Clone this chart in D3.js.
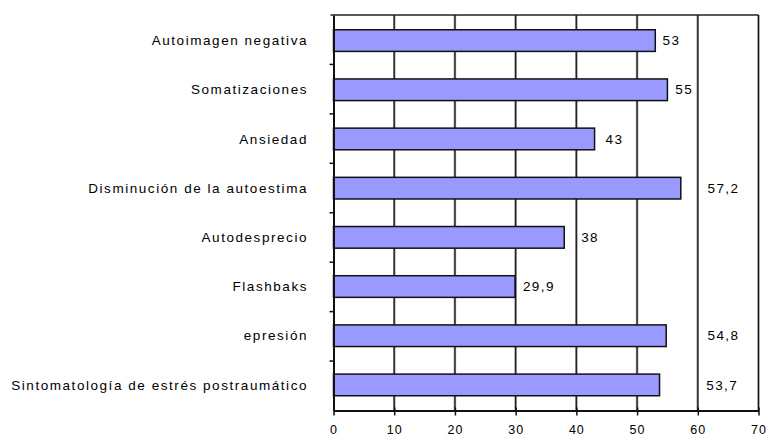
<!DOCTYPE html>
<html>
<head>
<meta charset="utf-8">
<script src="https://cdnjs.cloudflare.com/ajax/libs/d3/7.8.5/d3.min.js"></script>
<style>
body { margin:0; background:#fff; }
text { font-family: "Liberation Sans", Arial, sans-serif; font-size:13.5px; fill:#000; }
</style>
</head>
<body>
<svg width="769" height="441"></svg>
<script>
var categories = ['Autoimagen negativa','Somatizaciones','Ansiedad','Disminución de la autoestima',
  'Autodesprecio','Flashbaks','epresión','Sintomatología de estrés postraumático']
var values = [53, 55, 43, 57.2, 38, 29.9, 54.8, 53.7]
var valueLabels = ['53','55','43','57,2','38','29,9','54,8','53,7']
var xTicks = [0,10,20,30,40,50,60,70]
// where each value label starts, in axis units (labels were dragged around in the original)
var labelAt = [54.2, 56.3, 44.8, 61.6, 40.8, 31.2, 61.6, 61.4]

var svg = d3.select('svg')
var pLeft = 333.5, pRight = 758.5, pTop = 15, pBottom = 410.5

var x = d3.scaleLinear().domain([0,70]).range([pLeft,pRight])
var y = d3.scaleBand().domain(categories).range([pTop,pBottom]).paddingInner(0.56).paddingOuter(0.3)
var band = d3.scaleBand().domain(categories).range([pTop,pBottom])

// gridlines
svg.append('g').selectAll('line')
  .data(xTicks.slice(1))
  .enter().append('line')
  .attr('x1',function(d){return x(d)}).attr('x2',function(d){return x(d)})
  .attr('y1',pTop).attr('y2',pBottom)
  .attr('stroke','#888').attr('stroke-width',2.4)
svg.append('g').selectAll('line')
  .data(xTicks.slice(1))
  .enter().append('line')
  .attr('x1',function(d){return x(d)}).attr('x2',function(d){return x(d)})
  .attr('y1',pTop).attr('y2',pBottom)
  .attr('stroke','#111').attr('stroke-width',1)

// top border
svg.append('line').attr('x1',pLeft-3).attr('x2',pRight).attr('y1',pTop).attr('y2',pTop)
  .attr('stroke','#222').attr('stroke-width',1.5)

// bars
svg.append('g').selectAll('rect')
  .data(values)
  .enter().append('rect')
  .attr('x',x(0))
  .attr('y',function(d,i){return y(categories[i])})
  .attr('width',function(d){return x(d)-x(0)})
  .attr('height',y.bandwidth())
  .attr('fill','#9999ff')
  .attr('stroke','#111').attr('stroke-width',1.5)

// value labels
svg.append('g').selectAll('text')
  .data(values)
  .enter().append('text')
  .attr('x',function(d,i){return x(labelAt[i])})
  .attr('y',function(d,i){return y(categories[i])+y.bandwidth()/2})
  .attr('dy','0.35em')
  .attr('letter-spacing','1.4px')
  .text(function(d,i){return valueLabels[i]})

// x axis
var xAxis = d3.axisBottom(x).tickValues(xTicks).tickSize(5).tickSizeOuter(0).tickFormat(d3.format('d'))
var gx = svg.append('g').attr('transform','translate(0,'+pBottom+')').call(xAxis)
gx.select('.domain').attr('stroke','#111').attr('stroke-width',2)
gx.selectAll('.tick line').attr('stroke','#111').attr('stroke-width',1.5).attr('y1',-3)
gx.selectAll('.tick text').attr('dy','1.25em').attr('letter-spacing','1px')
  .style('font-family','"Liberation Sans", Arial, sans-serif').style('font-size','12.5px')

// y axis with ticks between categories
var yAxis = d3.axisLeft(band).tickSize(0).tickFormat('')
var gy = svg.append('g').attr('transform','translate('+pLeft+',0)').call(yAxis)
gy.select('.domain').attr('stroke','#111').attr('stroke-width',2)
svg.append('g').selectAll('line')
  .data(categories.slice(1))
  .enter().append('line')
  .attr('x1',pLeft-4).attr('x2',pLeft)
  .attr('y1',function(d){return band(d)}).attr('y2',function(d){return band(d)})
  .attr('stroke','#111').attr('stroke-width',1.5)

// category labels
svg.append('g').selectAll('text')
  .data(categories)
  .enter().append('text')
  .attr('x',308)
  .attr('y',function(d){return y(d)+y.bandwidth()/2})
  .attr('dy','0.35em')
  .attr('text-anchor','end')
  .attr('letter-spacing','1.55px')
  .text(function(d){return d})
</script>
</body>
</html>
